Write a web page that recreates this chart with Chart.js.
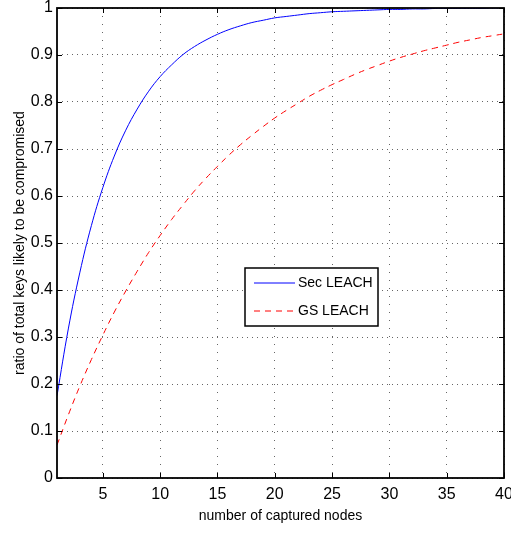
<!DOCTYPE html>
<html>
<head>
<meta charset="utf-8">
<script src="https://cdn.jsdelivr.net/npm/chart.js@4.4.1/dist/chart.umd.min.js"></script>
<style>
  html, body { margin: 0; padding: 0; background: #fff; }
  #wrap { width: 511px; height: 534px; }
</style>
</head>
<body>
<div id="wrap"><canvas id="keysChart" width="511" height="534"></canvas></div>
<script>
// Nodos capturados (eje x)
const capturedNodes = Array.from({ length: 40 }, (_, i) => i + 1);

// Sec LEACH
const secLeach = [
  0.175, 0.319, 0.438, 0.537, 0.618, 0.685, 0.740, 0.785, 0.823, 0.854,
  0.879, 0.901, 0.918, 0.932, 0.944, 0.954, 0.962, 0.969, 0.974, 0.979,
  0.982, 0.985, 0.988, 0.990, 0.992, 0.993, 0.994, 0.995, 0.996, 0.997,
  0.997, 0.998, 0.998, 0.999, 0.999, 0.999, 0.999, 0.999, 1.000, 1.000
];

// GS LEACH
const gsLeach = [
  0.070, 0.135, 0.196, 0.252, 0.304, 0.353, 0.398, 0.440, 0.480, 0.516,
  0.550, 0.581, 0.611, 0.638, 0.663, 0.687, 0.709, 0.729, 0.748, 0.766,
  0.782, 0.797, 0.812, 0.825, 0.837, 0.848, 0.859, 0.869, 0.878, 0.887,
  0.895, 0.902, 0.909, 0.915, 0.921, 0.927, 0.932, 0.937, 0.941, 0.945
];

// Marcas de los ejes
const xTicks = [5, 10, 15, 20, 25, 30, 35, 40];
const yTicks = [0, 0.1, 0.2, 0.3, 0.4, 0.5, 0.6, 0.7, 0.8, 0.9, 1];

const FONT = '"Liberation Sans", Arial, sans-serif';

const toPoints = arr => arr.map((v, i) => ({ x: capturedNodes[i], y: v }));

// Caja del área de trazado, marcas interiores y leyenda
const frameAndLegend = {
  id: 'frameAndLegend',
  afterDraw(chart) {
    const { ctx, chartArea: a, scales } = chart;
    ctx.save();
    ctx.strokeStyle = '#000';
    ctx.lineWidth = 1.8;
    ctx.setLineDash([]);
    ctx.strokeRect(a.left, a.top, a.right - a.left, a.bottom - a.top);

    // marcas hacia dentro en los cuatro lados
    ctx.lineWidth = 1;
    const tl = 5;
    ctx.beginPath();
    xTicks.forEach(t => {
      const x = Math.round(scales.x.getPixelForValue(t)) + 0.5;
      ctx.moveTo(x, a.bottom); ctx.lineTo(x, a.bottom - tl);
      ctx.moveTo(x, a.top); ctx.lineTo(x, a.top + tl);
    });
    yTicks.forEach(t => {
      const y = Math.round(scales.y.getPixelForValue(t)) + 0.5;
      ctx.moveTo(a.left, y); ctx.lineTo(a.left + tl, y);
      ctx.moveTo(a.right, y); ctx.lineTo(a.right - tl, y);
    });
    ctx.stroke();

    // leyenda
    const box = { x: 245, y: 268, w: 133, h: 58 };
    ctx.fillStyle = '#fff';
    ctx.fillRect(box.x, box.y, box.w, box.h);
    ctx.lineWidth = 1.5;
    ctx.strokeRect(box.x, box.y, box.w, box.h);
    ctx.font = '14px ' + FONT;
    ctx.textBaseline = 'middle';
    chart.data.datasets.forEach((ds, i) => {
      const y = box.y + 15 + i * 28;
      ctx.strokeStyle = ds.borderColor;
      ctx.lineWidth = 1;
      ctx.setLineDash(ds.borderDash || []);
      ctx.beginPath();
      ctx.moveTo(box.x + 9, y);
      ctx.lineTo(box.x + 50, y);
      ctx.stroke();
      ctx.setLineDash([]);
      ctx.fillStyle = '#000';
      ctx.fillText(ds.label, box.x + 53, y);
    });
    ctx.restore();
  }
};

new Chart(document.getElementById('keysChart').getContext('2d'), {
  type: 'line',
  data: {
    datasets: [
      {
        label: 'Sec LEACH',
        data: toPoints(secLeach),
        borderColor: '#0000ff',
        borderWidth: 1,
        pointRadius: 0,
        tension: 0.4,
        fill: false
      },
      {
        label: 'GS LEACH',
        data: toPoints(gsLeach),
        borderColor: '#ff0000',
        borderWidth: 1,
        borderDash: [6, 5],
        pointRadius: 0,
        tension: 0.4,
        fill: false
      }
    ]
  },
  options: {
    responsive: false,
    animation: false,
    layout: { padding: { left: 0, top: 8, right: 7, bottom: 0 } },
    plugins: {
      legend: { display: false },
      tooltip: { enabled: false }
    },
    scales: {
      x: {
        type: 'linear',
        min: 1,
        max: 40,
        afterBuildTicks: s => { s.ticks = xTicks.map(v => ({ value: v })); },
        afterFit: s => { s.height = 56; s.paddingLeft = 0; s.paddingRight = 0; },
        ticks: {
          autoSkip: false,
          maxRotation: 0,
          padding: 7,
          color: '#000',
          font: { family: FONT, size: 16 }
        },
        grid: {
          color: '#666',
          lineWidth: 1,
          drawTicks: false
        },
        border: { display: false, dash: [1, 7] },
        title: {
          display: true,
          text: 'number of captured nodes',
          color: '#000',
          font: { family: FONT, size: 14 },
          padding: { top: 0, bottom: 9 }
        }
      },
      y: {
        min: 0,
        max: 1,
        afterBuildTicks: s => { s.ticks = yTicks.map(v => ({ value: v })); },
        afterFit: s => { s.width = 57; s.paddingTop = 0; s.paddingBottom = 0; },
        ticks: {
          padding: 4,
          color: '#000',
          font: { family: FONT, size: 16 },
          callback: v => String(Math.round(v * 10) / 10)
        },
        grid: {
          color: '#666',
          lineWidth: 1,
          drawTicks: false
        },
        border: { display: false, dash: [1, 4] },
        title: {
          display: true,
          text: 'ratio of total keys likely to be compromised',
          color: '#000',
          font: { family: FONT, size: 14 },
          padding: { top: 12, bottom: 0 }
        }
      }
    }
  },
  plugins: [frameAndLegend]
});
</script>
</body>
</html>
